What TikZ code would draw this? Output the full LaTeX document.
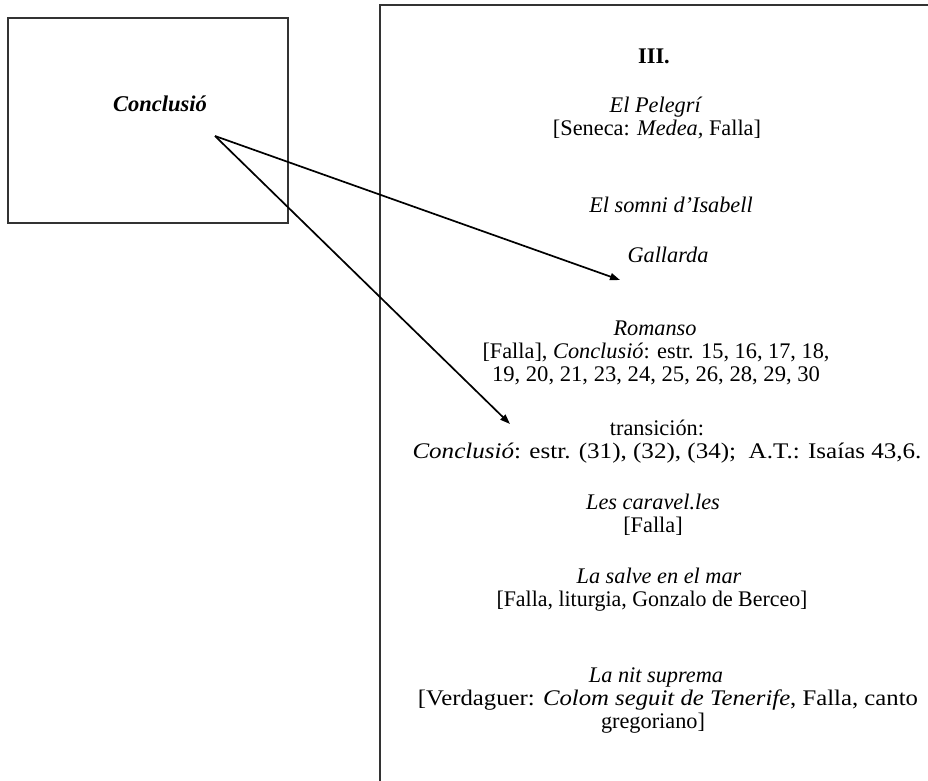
\documentclass[tikz,border=0pt]{standalone}
\usepackage{fontspec}
\usepackage{graphicx}
\setmainfont{Liberation Serif}
\usetikzlibrary{arrows.meta}
\newcommand{\fitw}[2]{\resizebox{#1}{\height}{#2}}
\begin{document}
\begin{tikzpicture}[x=1pt,y=-1pt,
  frame/.style={draw=black!80, line width=1.3pt, inner sep=0pt},
  txt/.style={anchor=base, inner sep=0pt, font=\fontsize{22.3}{24}\selectfont},
  arr/.style={line width=1.7pt, -{Triangle[length=10pt,width=7pt]}}]
\useasboundingbox (0,0) rectangle (928,780);
\clip (0,0) rectangle (928,780);
% boxes
\node[frame, minimum width=280pt, minimum height=205pt] (leftbox) at (148,120.5) {};
\node[frame, minimum width=580pt, minimum height=815pt] (rightbox) at (670,412.5) {};
% left label
\node[anchor=base, inner sep=0pt, font=\fontsize{22.5}{24}\selectfont\bfseries\itshape] (concl) at (160,111) {Conclusió};
% right texts
\node[txt, font=\fontsize{22.3}{24}\selectfont\bfseries] (t1) at (654,63) {III.};
\node[txt] (t2) at (656,112) {\textit{El Pelegrí}};
\node[txt] (t3) at (657,135) {[Seneca: \textit{Medea,} Falla]};
\node[txt] (t4) at (671,212) {\textit{El somni d’Isabell}};
\node[txt] (t5) at (668,262) {\textit{Gallarda}};
\node[txt] (t6) at (655,335) {\textit{Romanso}};
\node[txt] (t7) at (656,358) {\fitw{347pt}{[Falla], \textit{Conclusió}: estr. 15, 16, 17, 18,}};
\node[txt] (t8) at (656,381) {\fitw{328pt}{19, 20, 21, 23, 24, 25, 26, 28, 29, 30}};
\node[txt] (t9) at (657,435) {transición:};
\node[txt] (t10) at (667,458) {\fitw{509pt}{\textit{Conclusió}: estr. (31), (32), (34);\ \ A.T.: Isaías 43,6.}};
\node[txt] (t11) at (653,509) {\textit{Les caravel.les}};
\node[txt] (t12) at (653,532) {[Falla]};
\node[txt] (t13) at (659,583) {\textit{La salve en el mar}};
\node[txt] (t14) at (652,606) {\fitw{311pt}{[Falla, liturgia, Gonzalo de Berceo]}};
\node[txt] (t15) at (656,682) {\textit{La nit suprema}};
\node[txt] (t16) at (668,705) {\fitw{500pt}{[Verdaguer: \textit{Colom seguit de Tenerife}, Falla, canto}};
\node[txt] (t17) at (653,728) {gregoriano]};
% arrows
\coordinate (src) at (215,136);
\coordinate (tipA) at (620,280);
\coordinate (tipB) at (510,424);
\draw[arr] (src) -- (tipA);
\draw[arr] (src) -- (tipB);
\end{tikzpicture}
\end{document}
